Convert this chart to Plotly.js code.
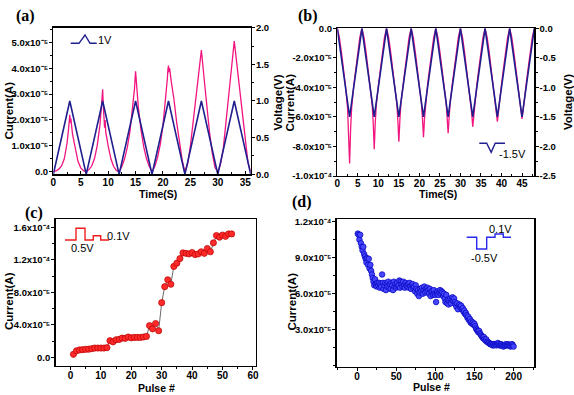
<!DOCTYPE html>
<html>
<head>
<meta charset="utf-8">
<script src="https://cdn.plot.ly/plotly-3.0.1.min.js"></script>
<style>html,body{margin:0;padding:0;background:#fff;}#chart{width:574px;height:395px;}</style>
</head>
<body>
<div id="chart"></div>
<script>
// ---------- Panel (a): triangular sweep 0 -> 1 V ----------
const aVoltTime = [0,3,6,9,12,15,18,21,24,27,30,33,36];
const aVolt     = [0,1,0,1,0,1,0,1,0,1,0,1,0];
const aTime = [0,0.5,1,1.5,2,2.5,2.8,2.9,3,3.1,3.2,3.5,4,4.5,5,5.5,6,
  6.5,7,7.5,8,8.5,8.8,9,9.1,9.2,9.35,9.45,9.55,10,10.5,11,11.5,12,
  12.5,13,13.5,14,14.5,14.8,15,15.1,15.3,15.5,16,16.5,17,17.5,18,
  18.5,19,19.5,20,20.5,20.8,20.9,21,21.1,21.2,21.5,22,22.5,23,23.5,24,
  24.5,25,25.5,26,26.5,26.9,27,27.5,28,28.5,29,29.5,30,
  30.5,31,31.5,32,32.5,32.9,33,33.5,34,34.5,35,35.5,36];
// current in units of 1e-5 A
const aCurrentE5 = [0,0.03,0.1,0.22,0.5,1.1,1.7,1.95,2.2,1.9,2.05,1.45,0.85,0.4,0.15,0.04,0,
  0.08,0.22,0.5,1.0,1.8,2.6,3.18,2.6,2.2,1.7,2.0,1.55,1.0,0.5,0.2,0.05,0,
  0.2,0.5,0.95,1.6,2.5,3.2,3.88,3.6,3.0,2.5,1.6,0.95,0.5,0.2,0,
  0.2,0.55,1.05,1.8,2.8,3.6,3.95,4.1,3.85,4.0,3.5,2.8,1.9,1.1,0.45,0,
  0.3,1.0,1.9,2.9,3.8,4.5,4.7,3.6,2.5,1.5,0.7,0.15,0,
  0.3,0.9,1.9,3.1,4.1,4.8,5.05,4.1,3.1,2.1,1.1,0.35,0];
const aLeftTicks = [0,1,2,3,4,5];
const aLeftText = ['0.0','1.0x10⁻⁵','2.0x10⁻⁵','3.0x10⁻⁵','4.0x10⁻⁵','5.0x10⁻⁵'];
const aRightTicks = [0,0.5,1,1.5,2];
const aRightText = ['0.0','0.5','1.0','1.5','2.0'];

// ---------- Panel (b): triangular sweep 0 -> -1.5 V ----------
const bVoltTime = [0,3,6,9,12,15,18,21,24,27,30,33,36,39,42,45,48];
const bVolt     = [0,-1.5,0,-1.5,0,-1.5,0,-1.5,0,-1.5,0,-1.5,0,-1.5,0,-1.5,0];
const bTime = [0,
  0.5,1,1.5,2,2.5,2.75,3,3.25,3.5,4,4.5,5,5.5,6,
  6.5,7,7.5,8,8.5,8.75,9,9.25,9.5,10,10.5,11,11.5,12,
  12.5,13,13.5,14,14.5,14.75,15,15.25,15.5,16,16.5,17,17.5,18,
  18.5,19,19.5,20,20.5,20.75,21,21.25,21.5,22,22.5,23,23.5,24,
  24.5,25,25.5,26,26.5,26.75,27,27.25,27.5,28,28.5,29,29.5,30,
  30.5,31,31.5,32,32.5,32.75,33,33.25,33.5,34,34.5,35,35.5,36,
  36.5,37,37.5,38,38.5,38.75,39,39.25,39.5,40,40.5,41,41.5,42,
  42.5,43,43.5,44,44.5,44.75,45,45.25,45.5,46,46.5,47,47.5,48];
const bCurrentE5 = [0,
  -0.6,-1.6,-2.7,-3.9,-5.4,-6.8,-9.15,-6.8,-5.4,-3.9,-2.7,-1.6,-0.6,0,
  -0.6,-1.6,-2.7,-3.9,-5.2,-6.4,-8.18,-6.4,-5.2,-3.9,-2.7,-1.6,-0.6,0,
  -0.6,-1.6,-2.7,-3.9,-5.1,-6.2,-7.68,-6.2,-5.1,-3.9,-2.7,-1.6,-0.6,0,
  -0.6,-1.6,-2.7,-3.8,-5.1,-6.1,-7.38,-6.1,-5.1,-3.8,-2.7,-1.6,-0.6,0,
  -0.6,-1.6,-2.7,-3.8,-5.0,-6.0,-7.1,-6.0,-5.0,-3.8,-2.7,-1.6,-0.6,0,
  -0.6,-1.6,-2.7,-3.8,-5.0,-5.8,-6.67,-5.8,-5.0,-3.8,-2.7,-1.6,-0.6,0,
  -0.6,-1.6,-2.7,-3.8,-4.9,-5.7,-6.33,-5.7,-4.9,-3.8,-2.7,-1.6,-0.6,0,
  -0.6,-1.6,-2.7,-3.8,-4.9,-5.6,-6.13,-5.6,-4.9,-3.8,-2.7,-1.6,-0.6,0];
const bLeftTicks = [0,-2,-4,-6,-8,-10];
const bLeftText = ['0.0','-2.0x10⁻⁵','-4.0x10⁻⁵','-6.0x10⁻⁵','-8.0x10⁻⁵','-1.0x10⁻⁴'];
const bRightTicks = [0,-0.5,-1,-1.5,-2,-2.5];
const bRightText = ['0.0','-0.5','-1.0','-1.5','-2.0','-2.5'];

// ---------- Panel (c): potentiation pulses ----------
const cPulse = [1,2,3,4,5,6,7,8,9,10,11,12,13,14,15,16,17,18,19,20,21,22,23,24,25,26,27,28,29,30,
  31,32,33,34,35,36,37,38,39,40,41,42,43,44,45,46,47,48,49,50,51,52,53];
const cCurrentE5 = [0.37,0.8,0.9,0.94,0.98,1.0,1.06,1.14,1.14,1.14,1.14,1.18,2.04,1.9,2.16,2.2,2.37,2.33,2.5,2.4,
  2.45,2.45,2.45,2.5,2.57,3.9,3.5,4.16,3.27,6.73,8.7,9.55,9.0,11.2,11.6,12.16,12.86,12.8,12.73,12.9,
  12.65,12.73,13.0,12.8,13.4,13.0,14.1,15.0,14.8,15.06,14.9,15.2,15.2];
const cTicks = [0,4,8,12,16];
const cText = ['0.0','4.0x10⁻⁵','8.0x10⁻⁵','1.2x10⁻⁴','1.6x10⁻⁴'];

// ---------- Panel (d): depression pulses ----------
const dPulse = [];
for (let i = 1; i <= 200; i++) dPulse.push(i);
const dCurrentE5 = [
  11.0,10.9,10.5,10.9,10.2,9.9,9.6,9.9,9.3,9.1,
  8.9,8.6,8.95,8.4,8.9,8.1,8.4,7.9,7.6,7.3,
  7.0,6.7,7.2,6.8,6.6,6.9,6.7,6.9,6.5,6.8,
  6.6,7.6,6.9,6.4,6.7,6.9,6.3,6.8,6.6,7.0,
  6.5,6.8,6.4,6.9,6.7,6.3,7.0,6.6,6.8,6.5,
  6.9,6.6,6.7,7.1,6.5,7.0,6.8,6.6,7.0,6.7,
  6.5,6.9,6.7,6.6,6.8,6.5,6.9,6.6,6.4,6.7,
  6.8,6.5,6.6,6.2,6.7,6.4,6.0,6.3,5.8,6.1,
  6.4,6.2,6.5,6.0,6.3,6.6,6.1,6.4,6.2,6.5,
  6.3,6.0,6.4,5.8,6.2,6.1,5.9,6.3,6.0,5.9,
  5.3,6.0,6.2,5.9,6.1,6.3,6.0,6.2,6.1,5.8,
  6.0,5.6,5.3,5.9,5.2,5.5,5.1,5.4,5.6,5.2,
  5.5,5.7,5.4,5.6,5.3,5.1,4.9,5.2,4.7,5.0,
  5.1,4.9,5.0,4.7,4.8,4.5,4.6,4.3,4.4,4.2,
  4.0,4.1,3.8,3.9,3.6,3.7,3.5,3.6,3.4,3.5,
  3.3,3.1,3.0,2.9,2.8,2.9,2.7,2.6,2.5,2.4,
  2.3,2.4,2.2,2.1,2.2,2.0,2.0,1.9,1.9,1.8,
  1.8,1.8,1.7,1.8,1.7,1.8,1.8,1.7,1.8,1.9,
  1.8,1.7,1.7,1.8,1.7,1.7,1.6,1.7,1.7,1.8,
  1.7,1.7,1.8,1.7,1.7,1.6,1.7,1.8,1.7,1.6];
const dTicks = [3,6,9,12];
const dText = ['3.0x10⁻⁵','6.0x10⁻⁵','9.0x10⁻⁵','1.2x10⁻⁴'];

// ---------- styles ----------
const PINK = '#f2147f', NAVY = '#1f1f8f';
const W = 574, H = 395;
const FONT = 'Liberation Sans, Arial, sans-serif';
const xTickFont = {family: FONT, size: 10, color: '#000', weight: 'bold'};
const yTickFont = {family: FONT, size: 9.5, color: '#000', weight: 'bold'};
function ax(extra) {
  return Object.assign({
    showline: true, linecolor: '#000', linewidth: 1.3,
    ticks: 'outside', ticklen: 3, tickwidth: 1, tickcolor: '#000',
    showgrid: false, zeroline: false, fixedrange: true
  }, extra);
}
function xa(extra) { return ax(Object.assign({tickfont: xTickFont}, extra)); }
function ya(extra) { return ax(Object.assign({tickfont: yTickFont, ticklabelstandoff: -1}, extra)); }
function minor(d, dir) { return {ticks: dir || 'outside', ticklen: 2, tick0: 0, dtick: d, tickcolor: '#000'}; }
function px(x) { return x / W; }
function py(y) { return 1 - y / H; }
function pathOf(pts) {
  return pts.map((p, i) => (i ? 'L' : 'M') + px(p[0]).toFixed(4) + ',' + py(p[1]).toFixed(4)).join(' ');
}

const traces = [
  {x: aTime, y: aCurrentE5, xaxis: 'x', yaxis: 'y', mode: 'lines', line: {color: PINK, width: 1.3}},
  {x: aVoltTime, y: aVolt, xaxis: 'x', yaxis: 'y2', mode: 'lines', line: {color: NAVY, width: 1.6}},
  {x: bTime, y: bCurrentE5, xaxis: 'x2', yaxis: 'y3', mode: 'lines', line: {color: PINK, width: 1.3}},
  {x: bVoltTime, y: bVolt, xaxis: 'x2', yaxis: 'y4', mode: 'lines', line: {color: NAVY, width: 1.6}},
  {x: cPulse, y: cCurrentE5, xaxis: 'x3', yaxis: 'y5', mode: 'lines+markers',
   line: {color: '#444', width: 0.8},
   marker: {size: 6.2, color: '#ff2a2a', line: {color: '#b80000', width: 0.7}}},
  {x: dPulse, y: dCurrentE5, xaxis: 'x4', yaxis: 'y6', mode: 'markers',
   marker: {size: 5.6, color: '#4646ff', line: {color: '#0000b8', width: 0.7}}}
];

// axis titles placed as annotations so their position matches the reference
const axisTitles = [
  {text: 'Time(S)', x: 157.5, y: 194, rot: 0, size: 10.5},
  {text: 'Current(A)', x: 8.5, y: 111, rot: -90, size: 11.5},
  {text: 'Voltage(V)', x: 277.5, y: 103, rot: -90, size: 11.5},
  {text: 'Time(S)', x: 438, y: 194, rot: 0, size: 10.5},
  {text: 'Current(A)', x: 289.5, y: 103, rot: -90, size: 11.5},
  {text: 'Voltage(V)', x: 568, y: 102, rot: -90, size: 11.5},
  {text: 'Pulse #', x: 157, y: 388, rot: 0, size: 10.5},
  {text: 'Current(A)', x: 8.5, y: 301.5, rot: -90, size: 11.5},
  {text: 'Pulse #', x: 431.7, y: 387, rot: 0, size: 10.5},
  {text: 'Current(A)', x: 291, y: 301.5, rot: -90, size: 11.5}
].map(t => ({text: t.text, x: px(t.x), y: py(t.y), textangle: t.rot, xref: 'paper', yref: 'paper',
  showarrow: false, xanchor: 'center', yanchor: 'middle',
  font: {family: FONT, size: t.size, color: '#000', weight: 'bold'}}));

const panelLabels = [
  {text: '(a)', x: 25, y: 16}, {text: '(b)', x: 308, y: 16},
  {text: '(c)', x: 34, y: 212.5}, {text: '(d)', x: 302, y: 202.5}
].map(a => ({text: a.text, x: px(a.x), y: py(a.y), xref: 'paper', yref: 'paper', showarrow: false,
  xanchor: 'center', yanchor: 'middle',
  font: {family: 'Liberation Serif, Times New Roman, serif', size: 16, color: '#000', weight: 'bold'}}));

const insetTexts = [
  {text: '1V', x: 96, y: 40}, {text: '-1.5V', x: 497, y: 154},
  {text: '0.5V', x: 69, y: 248}, {text: '0.1V', x: 105, y: 236},
  {text: '0.1V', x: 487, y: 228.5}, {text: '-0.5V', x: 469, y: 257.5}
].map(a => ({text: a.text, x: px(a.x), y: py(a.y), xref: 'paper', yref: 'paper', showarrow: false,
  xanchor: 'left', yanchor: 'middle', font: {family: FONT, size: 11, color: '#000'}}));

const layout = {
  width: W, height: H, margin: {l: 0, r: 0, t: 0, b: 0},
  paper_bgcolor: '#fff', plot_bgcolor: 'rgba(0,0,0,0)', showlegend: false,
  font: {family: FONT, color: '#000'},
  xaxis: xa({domain: [0.0929, 0.4368], range: [0, 36], anchor: 'y', mirror: true,
    ticks: 'inside', ticklabelstandoff: -2, tick0: 0, dtick: 5, minor: minor(2.5, 'inside')}),
  yaxis: ya({domain: [0.5587, 0.9299], range: [-0.1, 5.565], anchor: 'x',
    tickmode: 'array', tickvals: aLeftTicks, ticktext: aLeftText, minor: minor(0.5)}),
  yaxis2: ya({overlaying: 'y', side: 'right', anchor: 'x', range: [0, 2.0],
    tickmode: 'array', tickvals: aRightTicks, ticktext: aRightText, minor: minor(0.25)}),
  xaxis2: xa({domain: [0.5876, 0.9309], range: [0, 48], anchor: 'y3', mirror: true,
    ticks: 'inside', ticklabelstandoff: -2, tick0: 0, dtick: 5, minor: minor(2.5, 'inside')}),
  yaxis3: ya({domain: [0.5544, 0.9284], range: [-10, 0], anchor: 'x2',
    tickmode: 'array', tickvals: bLeftTicks, ticktext: bLeftText, minor: minor(1)}),
  yaxis4: ya({overlaying: 'y3', side: 'right', anchor: 'x2', range: [-2.5, 0],
    tickmode: 'array', tickvals: bRightTicks, ticktext: bRightText, minor: minor(0.25)}),
  xaxis3: xa({domain: [0.0967, 0.4460], range: [-4.9, 61], anchor: 'y5', mirror: true,
    ticklabelstandoff: -3, tick0: 0, dtick: 10, minor: minor(5)}),
  yaxis5: ya({domain: [0.0735, 0.4448], range: [-1.07, 17.0], anchor: 'x3', mirror: true,
    tickmode: 'array', tickvals: cTicks, ticktext: cText, minor: minor(2)}),
  xaxis4: xa({domain: [0.5866, 0.9309], range: [-26, 226.5], anchor: 'y6', mirror: true,
    ticklabelstandoff: -3, tick0: 0, dtick: 50, minor: minor(25)}),
  yaxis6: ya({domain: [0.0716, 0.4456], range: [-0.08, 12.22], anchor: 'x4', mirror: true,
    tickmode: 'array', tickvals: dTicks, ticktext: dText, minor: minor(1.5)}),
  annotations: axisTitles.concat(panelLabels, insetTexts),
  shapes: [
    {path: pathOf([[70.7,43.3],[79,43.3],[85,35],[90,43.3],[96.7,43.3]]), color: NAVY},
    {path: pathOf([[479.3,143.3],[486.7,143.3],[491.2,152.3],[495.2,143.3],[505,143.3]]), color: NAVY},
    {path: pathOf([[65,240],[76,240],[76,228.3],[85,228.3],[85,240],[93.3,240],[93.3,235.7],[100.7,235.7],[100.7,240],[109,240]]), color: '#ee1c1c'},
    {path: pathOf([[466.7,237.3],[476.7,237.3],[476.7,249],[486.7,249],[486.7,237.3],[495,237.3],[495,234],[503.3,234],[503.3,237.3],[511,237.3]]), color: '#2a2aee'}
  ].map(s => ({type: 'path', xref: 'paper', yref: 'paper', path: s.path,
      line: {color: s.color, width: 1.4}}))
};

Plotly.newPlot('chart', traces, layout, {staticPlot: true, displayModeBar: false});
</script>
</body>
</html>
